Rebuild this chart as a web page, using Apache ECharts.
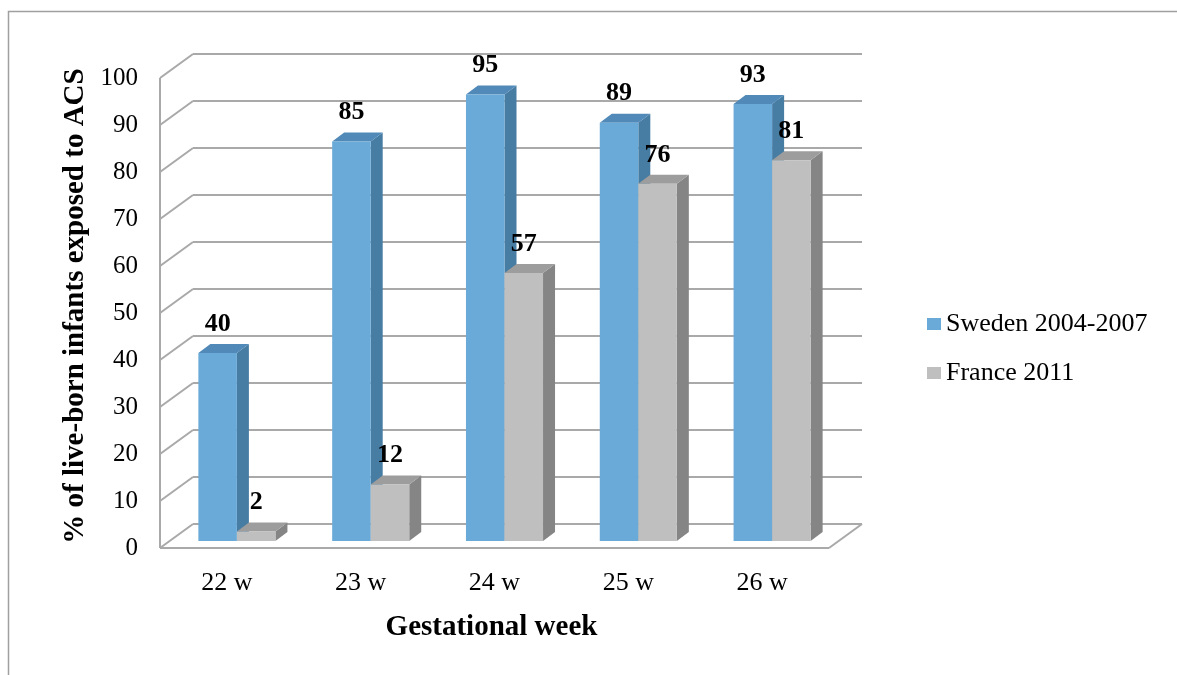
<!DOCTYPE html>
<html>
<head>
<meta charset="utf-8">
<script src="https://cdn.jsdelivr.net/npm/echarts@6/dist/echarts.min.js"></script>
<style>
  html, body { margin: 0; padding: 0; background: #ffffff; }
  #chart { width: 1177px; height: 675px; }
</style>
</head>
<body>
<div id="chart"></div>
<script>
// Share of live-born infants exposed to antenatal corticosteroids, by gestational week
const categories = ['22 w', '23 w', '24 w', '25 w', '26 w'];
const seriesNames = ['Sweden 2004-2007', 'France 2011'];
const sweden = [40, 85, 95, 89, 93];
const france = [2, 12, 57, 76, 81];
const yTicks = [0, 10, 20, 30, 40, 50, 60, 70, 80, 90, 100];

const SERIF = "'Times New Roman', 'Liberation Serif', serif";
const GRID_LINE = '#a9a9a9';

// pseudo-3D geometry: offsets of the front plane and back wall relative to the bar faces
const FRONT = [-10, 7];
const BACK = [23, -17];
const DEPTH = [12, -9];
const BAR_FRAC = 0.288;

const palette = {
  sweden: { front: '#6aaad8', side: '#477ca3', top: '#5189b8' },
  france: { front: '#bfbfbf', side: '#858585', top: '#9d9d9d' }
};

function renderFrame(params, api) {
  const cs = params.coordSys;
  const left = cs.x, right = cs.x + cs.width;
  const children = [];
  const line = (x1, y1, x2, y2) => ({
    type: 'line', silent: true,
    shape: { x1, y1, x2, y2 },
    style: { stroke: GRID_LINE, lineWidth: 2 }
  });
  yTicks.forEach(v => {
    const y = api.coord([0, v])[1];
    children.push(line(left + BACK[0], y + BACK[1], right + BACK[0], y + BACK[1]));
    children.push(line(left + FRONT[0], y + FRONT[1], left + BACK[0], y + BACK[1]));
  });
  const y0 = api.coord([0, 0])[1];
  const yTop = api.coord([0, yTicks[yTicks.length - 1]])[1];
  // front value axis, front floor edge, right floor edge
  children.push(line(left + FRONT[0], yTop + FRONT[1], left + FRONT[0], y0 + FRONT[1]));
  children.push(line(left + FRONT[0], y0 + FRONT[1], right + FRONT[0], y0 + FRONT[1]));
  children.push(line(right + FRONT[0], y0 + FRONT[1], right + BACK[0], y0 + BACK[1]));
  return { type: 'group', children };
}

function makeBarRenderer(side, colors) {
  return function (params, api) {
    const idx = api.value(0);
    const val = api.value(1);
    const band = api.size([1, 0])[0];
    const w = band * BAR_FRAC;
    const p = api.coord([idx, val]);
    const bottom = api.coord([idx, 0])[1];
    const top = p[1];
    const x0 = side < 0 ? p[0] - w : p[0];
    const x1 = x0 + w;
    const dx = DEPTH[0], dy = DEPTH[1];
    return {
      type: 'group',
      children: [
        { type: 'polygon', shape: { points: [[x1, top], [x1 + dx, top + dy], [x1 + dx, bottom + dy], [x1, bottom]] },
          style: { fill: colors.side } },
        { type: 'polygon', shape: { points: [[x0, top], [x0 + dx, top + dy], [x1 + dx, top + dy], [x1, top]] },
          style: { fill: colors.top } },
        { type: 'rect', shape: { x: x0, y: top, width: w, height: bottom - top },
          style: { fill: colors.front } },
        { type: 'text', z2: 50,
          style: { x: (x0 + x1) / 2, y: top - 29, text: String(val),
                   font: 'bold 26px ' + SERIF, fill: '#000', align: 'center', verticalAlign: 'middle' } }
      ]
    };
  };
}

const chart = echarts.init(document.getElementById('chart'));
chart.setOption({
  animation: false,
  backgroundColor: '#ffffff',
  graphic: [{
    type: 'rect', silent: true,
    shape: { x: 8.5, y: 11.5, width: 1300, height: 800 },
    style: { fill: null, stroke: '#a0a0a0', lineWidth: 1.5 }
  }],
  grid: { left: 170, right: 338, top: 71, bottom: 134, containLabel: false },
  legend: {
    orient: 'vertical',
    left: 922, top: 306,
    icon: 'rect', itemWidth: 14, itemHeight: 12, itemGap: 23,
    data: seriesNames,
    textStyle: { fontFamily: SERIF, fontSize: 26, color: '#000' }
  },
  xAxis: {
    type: 'category',
    data: categories,
    axisLine: { show: false }, axisTick: { show: false }, splitLine: { show: false },
    axisLabel: { fontFamily: SERIF, fontSize: 26, color: '#000', margin: 29, padding: [0, 20, 0, 0] },
    name: 'Gestational week', nameLocation: 'middle', nameGap: 72,
    nameTextStyle: { fontFamily: SERIF, fontSize: 29, fontWeight: 'bold', color: '#000', padding: [0, 26, 0, 0] }
  },
  yAxis: {
    type: 'value', min: 0, max: 100, interval: 10, offset: 10,
    axisLine: { show: false }, axisTick: { show: false }, splitLine: { show: false },
    axisLabel: { fontFamily: SERIF, fontSize: 25, color: '#000', margin: 22,
                 verticalAlign: 'top', lineHeight: 14 },
    name: '% of live-born infants exposed to ACS', nameLocation: 'middle', nameGap: 70, nameRotate: 90,
    nameTextStyle: { fontFamily: SERIF, fontSize: 29, fontWeight: 'bold', color: '#000' }
  },
  series: [
    {
      type: 'custom', name: 'frame', silent: true, z: 1,
      renderItem: renderFrame,
      data: [[0, 0]], encode: { x: 0, y: 1 }
    },
    {
      type: 'custom', name: seriesNames[0], z: 2,
      itemStyle: { color: palette.sweden.front },
      renderItem: makeBarRenderer(-1, palette.sweden),
      data: sweden.map((v, i) => [i, v]), encode: { x: 0, y: 1 }
    },
    {
      type: 'custom', name: seriesNames[1], z: 3,
      itemStyle: { color: palette.france.front },
      renderItem: makeBarRenderer(1, palette.france),
      data: france.map((v, i) => [i, v]), encode: { x: 0, y: 1 }
    }
  ]
});
</script>
</body>
</html>
